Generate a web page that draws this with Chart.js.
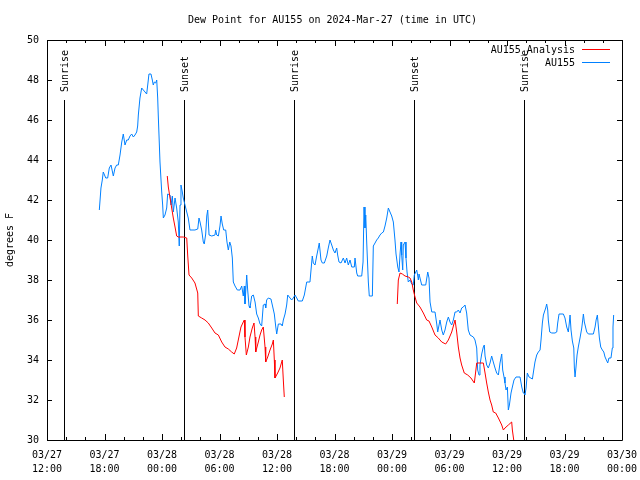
<!DOCTYPE html>
<html>
<head>
<meta charset="utf-8">
<script src="https://cdn.jsdelivr.net/npm/chart.js@4.4.1/dist/chart.umd.min.js"></script>
<style>
  html, body { margin: 0; padding: 0; background: #fff; }
</style>
</head>
<body>
<canvas id="dewChart" width="640" height="480"></canvas>
<script>
// hours since 03/27 12:00 UTC
const obsHours = [
  5.46, 5.63, 5.77, 5.87, 6.13, 6.33, 6.50, 6.68, 6.92, 7.10, 7.27, 7.44,
  7.62, 7.80, 7.96, 8.14, 8.32, 8.48, 8.66, 8.84, 9.01, 9.18, 9.36, 9.46,
  9.53, 9.70, 9.88, 10.05, 10.23, 10.40, 10.51, 10.64, 10.85, 10.99, 11.09, 11.20,
  11.34, 11.45, 11.55, 11.61, 11.79, 11.97, 12.07, 12.14, 12.31, 12.49, 12.59, 12.84,
  12.94, 13.08, 13.18, 13.36, 13.53, 13.70, 13.80, 13.88, 13.98, 14.12, 14.22, 14.40,
  14.58, 14.74, 14.92, 15.44, 15.73, 15.86, 15.97, 16.14, 16.31, 16.41, 16.56, 16.67,
  16.77, 16.91, 17.19, 17.53, 17.60, 17.71, 17.88, 18.05, 18.16, 18.29, 18.44, 18.65,
  18.78, 18.92, 19.07, 19.20, 19.34, 19.44, 19.62, 19.86, 20.14, 20.32, 20.48, 20.59,
  20.66, 20.84, 20.94, 21.08, 21.18, 21.36, 21.53, 21.71, 21.88, 22.05, 22.23, 22.40,
  22.57, 22.75, 22.82, 22.92, 23.09, 23.37, 23.51, 23.72, 23.86, 23.97, 24.14, 24.42,
  24.55, 24.66, 24.84, 25.01, 25.12, 25.36, 25.53, 25.70, 25.88, 26.06, 26.22, 26.64,
  26.85, 27.10, 27.44, 27.55, 27.68, 27.79, 27.97, 28.14, 28.31, 28.41, 28.59, 28.73,
  28.94, 29.19, 29.35, 29.53, 29.71, 29.88, 30.05, 30.23, 30.33, 30.47, 30.68, 30.92,
  31.10, 31.27, 31.44, 31.62, 31.80, 32.07, 32.14, 32.32, 32.42, 32.84, 32.98, 33.08,
  33.18, 33.26, 33.36, 33.53, 33.63, 33.95, 34.05, 34.23, 34.40, 34.57, 34.75, 34.93,
  35.10, 35.27, 35.45, 35.62, 35.79, 35.97, 36.14, 36.31, 36.42, 36.60, 36.73, 36.84,
  36.94, 37.01, 37.12, 37.18, 37.36, 37.46, 37.57, 37.70, 37.88, 38.06, 38.22, 38.33,
  38.48, 38.58, 38.69, 38.75, 38.82, 39.10, 39.52, 39.73, 39.86, 39.97, 40.15, 40.49,
  40.67, 40.77, 40.91, 41.01, 41.19, 41.35, 41.53, 41.71, 41.88, 42.05, 42.23, 42.40,
  42.58, 42.75, 42.92, 43.10, 43.27, 43.44, 43.62, 43.79, 43.96, 44.14, 44.49, 44.66,
  44.84, 44.94, 45.08, 45.18, 45.36, 45.53, 45.63, 45.71, 45.88, 46.05, 46.23, 46.40,
  46.57, 46.75, 46.92, 47.10, 47.27, 47.45, 47.55, 47.69, 47.79, 47.90, 48.04, 48.14,
  48.25, 48.42, 48.56, 48.73, 48.94, 49.36, 49.54, 49.70, 49.78, 49.88, 49.99, 50.12,
  50.30, 50.65, 50.79, 50.92, 51.10, 51.27, 51.45, 51.55, 51.69, 51.80, 51.90, 52.04,
  52.14, 52.25, 52.31, 52.46, 52.67, 53.01, 53.19, 53.29, 53.43, 53.88, 54.05, 54.23,
  54.40, 54.50, 54.58, 54.68, 54.82, 54.97, 55.03, 55.10, 55.20, 55.31, 55.44, 55.62,
  55.80, 55.90, 55.97, 56.07, 56.22, 56.32, 56.49, 57.01, 57.19, 57.30, 57.43, 57.54,
  57.64, 57.78, 57.95, 58.10, 58.23, 58.37, 58.51, 58.64, 58.85, 58.99, 59.06, 59.13
];
const obsDewPoint = [
  41.5, 42.6, 43.0, 43.4, 43.1, 43.1, 43.6, 43.75, 43.2, 43.6, 43.75, 43.75,
  44.25, 44.9, 45.3, 44.75, 45.0, 45.0, 45.2, 45.3, 45.15, 45.25, 45.4, 45.7,
  46.25, 47.1, 47.6, 47.5, 47.4, 47.3, 47.75, 48.3, 48.3, 48.0, 47.75, 47.9,
  47.85, 48.0, 47.1, 46.25, 43.9, 42.4, 41.75, 41.1, 41.25, 41.6, 42.3, 42.25,
  41.75, 42.2, 41.4, 42.1, 41.6, 40.9, 39.7, 41.75, 42.75, 42.4, 42.1, 41.75,
  41.4, 41.1, 40.5, 40.5, 40.55, 41.1, 40.9, 40.5, 39.9, 39.8, 40.3, 41.2,
  41.5, 40.25, 40.2, 40.25, 40.5, 40.25, 40.2, 40.7, 41.2, 40.8, 40.5, 40.5,
  39.9, 39.5, 39.9, 39.7, 39.1, 37.9, 37.7, 37.5, 37.5, 37.7, 37.2, 37.7,
  36.8, 38.25, 37.5, 36.7, 36.6, 37.2, 37.25, 36.9, 36.3, 36.1, 35.8, 35.7,
  36.75, 36.8, 36.6, 37.0, 37.1, 37.05, 36.75, 36.3, 35.7, 35.3, 35.8, 35.8,
  35.7, 36.0, 36.3, 36.75, 37.25, 37.1, 37.0, 37.1, 37.25, 37.1, 36.95, 36.95,
  37.25, 37.9, 37.9, 38.5, 39.2, 38.85, 38.75, 39.2, 39.6, 39.85, 39.0, 38.85,
  38.85, 39.2, 39.6, 40.0, 39.75, 39.5, 39.35, 39.6, 39.25, 38.9, 38.85, 39.1,
  38.85, 39.1, 38.75, 39.0, 38.65, 38.65, 39.1, 38.35, 38.2, 38.2, 38.9, 41.65,
  40.6, 41.25, 39.9, 37.9, 37.2, 37.2, 39.7, 39.85, 40.0, 40.1, 40.25, 40.35,
  40.4, 40.7, 41.1, 41.6, 41.4, 41.2, 40.9, 40.0, 39.3, 38.65, 38.4, 39.3,
  39.9, 39.25, 38.5, 39.75, 39.9, 39.1, 38.4, 37.9, 38.0, 37.8, 37.75, 38.25,
  38.4, 38.5, 38.2, 38.0, 38.3, 37.75, 37.75, 38.4, 38.1, 36.9, 36.4, 36.4,
  35.8, 35.4, 35.75, 36.0, 35.5, 35.25, 35.5, 35.9, 36.15, 35.9, 35.75, 36.0,
  36.4, 36.4, 36.5, 36.35, 36.6, 36.65, 36.75, 36.35, 35.5, 35.25, 35.15, 35.0,
  34.6, 33.5, 33.25, 33.75, 34.3, 34.65, 34.75, 34.2, 33.75, 33.6, 33.85, 34.2,
  33.9, 33.6, 33.35, 33.25, 33.85, 34.3, 33.5, 33.15, 32.85, 32.5, 32.65, 31.5,
  31.75, 32.35, 32.65, 33.0, 33.15, 33.15, 32.65, 32.35, 32.35, 32.25, 32.6, 33.35,
  33.15, 33.05, 33.5, 33.9, 34.25, 34.4, 34.5, 35.0, 35.85, 36.25, 36.4, 36.6,
  36.8, 36.5, 36.0, 35.4, 35.35, 35.35, 35.4, 35.85, 36.3, 36.3, 36.1, 35.65,
  35.4, 35.85, 36.25, 35.5, 34.95, 34.6, 33.6, 33.15, 33.65, 34.25, 34.65, 35.1,
  35.6, 36.0, 36.3, 35.9, 35.6, 35.4, 35.3, 35.3, 35.65, 36.0, 36.25, 35.65,
  35.1, 34.65, 34.5, 34.4, 34.15, 34.0, 33.85, 34.1, 34.1, 34.6, 35.65, 36.25
];

// analysis run, two pieces with a gap between them
const analysisHours = [
  12.55, 12.66, 12.84, 13.01, 13.18, 13.36, 13.53, 13.70, 14.22, 14.58, 14.68, 14.82,
  15.10, 15.44, 15.73, 15.79, 16.14, 16.49, 16.83, 17.19, 17.53, 17.88, 18.23, 18.57,
  18.92, 19.27, 19.54, 19.79, 19.96, 20.24, 20.48, 20.59, 20.66, 20.80, 21.01, 21.18,
  21.42, 21.60, 21.71, 21.78, 22.05, 22.23, 22.40, 22.57, 22.75, 22.82, 23.03, 23.27,
  23.51, 23.62, 23.72, 23.79, 24.07, 24.31, 24.55, 24.66, 24.76,
  30.0,
  36.55, 36.66, 36.84, 37.08, 37.36, 37.70, 37.88, 38.06, 38.22, 38.40, 38.58, 38.92,
  39.27, 39.62, 39.86, 40.15, 40.49, 40.83, 41.19, 41.60, 41.88, 42.23, 42.58, 42.75,
  42.92, 43.10, 43.27, 43.54, 43.90, 44.24, 44.59, 44.73, 44.84, 45.53, 45.71, 45.88,
  46.05, 46.23, 46.40, 46.57, 46.82, 47.10, 47.45, 47.62, 47.79, 48.14, 48.49, 48.56,
  48.73, 48.94
];
const analysisDewPoint = [
  43.2, 42.65, 42.1, 41.6, 41.1, 40.65, 40.2, 40.15, 40.15, 40.1, 39.25, 38.25,
  38.1, 37.85, 37.35, 36.2, 36.1, 36.0, 35.85, 35.6, 35.35, 35.25, 34.9, 34.65,
  34.55, 34.4, 34.3, 34.6, 35.0, 35.65, 35.9, 36.0, 35.15, 34.25, 34.65, 35.15,
  35.6, 35.85, 35.15, 34.4, 34.9, 35.25, 35.5, 35.65, 34.65, 33.9, 34.15, 34.5,
  34.8, 35.0, 34.0, 33.1, 33.35, 33.6, 34.0, 33.0, 32.15,
  null,
  36.8, 38.0, 38.35, 38.3, 38.2, 38.15, 38.1, 37.9, 37.5, 37.15, 36.85, 36.65,
  36.35, 36.0, 35.95, 35.65, 35.25, 35.1, 34.9, 34.8, 35.0, 35.4, 36.0, 35.4,
  34.65, 34.1, 33.75, 33.35, 33.25, 33.1, 32.85, 33.4, 33.85, 33.85, 33.35, 32.85,
  32.4, 32.0, 31.75, 31.4, 31.35, 31.1, 30.75, 30.5, 30.6, 30.75, 30.9, 30.5,
  29.9, 29.5
];

const sunHours = [1.78, 14.27, 25.75, 38.27, 49.75];
const sunLabels = ['Sunrise', 'Sunset', 'Sunrise', 'Sunset', 'Sunrise'];
const sunLineTop = 47;

const chartTitle = 'Dew Point for AU155 on 2024-Mar-27 (time in UTC)';
const FONT = '10px "DejaVu Sans Mono", monospace';

function tickLabel(h) {
  const total = 12 + h;
  const day = 27 + Math.floor(total / 24);
  const hour = total % 24;
  return ['03/' + day, String(hour).padStart(2, '0') + ':00'];
}

const series = [
  { label: 'AU155_Analysis', color: '#ff0000', hours: analysisHours, values: analysisDewPoint },
  { label: 'AU155', color: '#0080ff', hours: obsHours, values: obsDewPoint }
];

const decorations = {
  id: 'decorations',
  beforeDatasetsDraw(chart) {
    const { ctx, chartArea: a, scales: { x, y } } = chart;
    ctx.save();
    ctx.strokeStyle = '#000';
    ctx.fillStyle = '#000';
    ctx.lineWidth = 1;
    ctx.font = FONT;
    const top = y.getPixelForValue(sunLineTop);
    sunHours.forEach((h, i) => {
      const px = Math.round(x.getPixelForValue(h)) + 0.5;
      ctx.beginPath();
      ctx.moveTo(px, top);
      ctx.lineTo(px, a.bottom);
      ctx.stroke();
      ctx.save();
      ctx.translate(px + 1, top - 8);
      ctx.rotate(-Math.PI / 2);
      ctx.textAlign = 'left';
      ctx.textBaseline = 'middle';
      ctx.fillText(sunLabels[i], 0, 0);
      ctx.restore();
    });
    ctx.restore();
  },
  afterDatasetsDraw(chart) {
    const { ctx, chartArea: a, scales: { x, y } } = chart;
    ctx.save();
    ctx.strokeStyle = '#000';
    ctx.lineWidth = 1;
    ctx.beginPath();
    ctx.rect(Math.round(a.left) + 0.5, Math.round(a.top) + 0.5,
             Math.round(a.right - a.left), Math.round(a.bottom - a.top));
    ctx.stroke();

    // inward ticks, mirrored on top and right
    ctx.beginPath();
    for (let h = 0; h <= 60; h += 2) {
      const px = Math.round(x.getPixelForValue(h)) + 0.5;
      const len = h % 6 === 0 ? 6 : 3;
      ctx.moveTo(px, a.bottom); ctx.lineTo(px, a.bottom - len);
      ctx.moveTo(px, a.top); ctx.lineTo(px, a.top + len);
    }
    for (let v = 30; v <= 50; v += 2) {
      const py = Math.round(y.getPixelForValue(v)) + 0.5;
      ctx.moveTo(a.left, py); ctx.lineTo(a.left + 5, py);
      ctx.moveTo(a.right, py); ctx.lineTo(a.right - 5, py);
    }
    ctx.stroke();

    // title
    ctx.fillStyle = '#000';
    ctx.font = FONT;
    ctx.textAlign = 'center';
    ctx.textBaseline = 'middle';
    ctx.fillText(chartTitle, (a.left + a.right) / 2 - 2, a.top - 20);

    // legend, top right inside the plot
    ctx.textAlign = 'right';
    series.forEach((s, i) => {
      const ly = a.top + 10 + i * 13;
      ctx.fillStyle = '#000';
      ctx.fillText(s.label, a.right - 47, ly);
      ctx.strokeStyle = s.color;
      ctx.beginPath();
      ctx.moveTo(a.right - 40, Math.round(ly) - 0.5);
      ctx.lineTo(a.right - 12, Math.round(ly) - 0.5);
      ctx.stroke();
    });
    ctx.restore();
  }
};

new Chart(document.getElementById('dewChart'), {
  type: 'line',
  data: {
    datasets: series.map(s => ({
      label: s.label,
      data: s.hours.map((h, i) => ({ x: h, y: s.values[i] })),
      borderColor: s.color,
      borderWidth: 1,
      pointRadius: 0,
      tension: 0,
      spanGaps: false,
      fill: false
    }))
  },
  options: {
    responsive: false,
    animation: false,
    devicePixelRatio: 1,
    layout: { padding: { top: 40, right: 18, left: 0, bottom: 0 } },
    plugins: {
      legend: { display: false },
      title: { display: false },
      tooltip: { enabled: false }
    },
    scales: {
      x: {
        type: 'linear',
        min: 0,
        max: 60,
        grid: { display: false, drawTicks: false },
        border: { display: false },
        afterFit: s => { s.height = 40; s.paddingLeft = 0; s.paddingRight = 0; },
        ticks: {
          stepSize: 6,
          autoSkip: false,
          maxRotation: 0,
          padding: 8,
          color: '#000',
          font: { family: '"DejaVu Sans Mono", monospace', size: 10, lineHeight: 1.4 },
          callback: v => tickLabel(v)
        }
      },
      y: {
        min: 30,
        max: 50,
        grid: { display: false, drawTicks: false },
        border: { display: false },
        afterFit: s => { s.width = 47; },
        title: {
          display: true,
          text: 'degrees F',
          color: '#000',
          font: { family: '"DejaVu Sans Mono", monospace', size: 10 },
          padding: { top: 4, bottom: 0 }
        },
        ticks: {
          stepSize: 2,
          padding: 8,
          color: '#000',
          font: { family: '"DejaVu Sans Mono", monospace', size: 10 }
        }
      }
    }
  },
  plugins: [decorations]
});
</script>
</body>
</html>
